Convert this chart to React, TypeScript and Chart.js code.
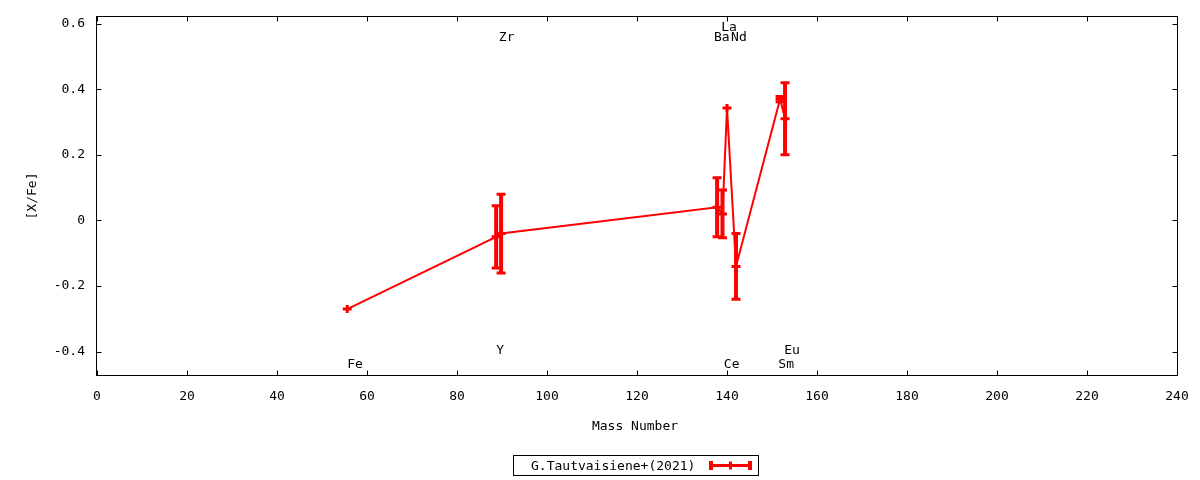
import React, { useEffect, useRef } from 'react';
import { Chart, registerables } from 'chart.js';

Chart.register(...registerables);

// ---- data ----
const seriesLabel = 'G.Tautvaisiene+(2021)';
const massNumbers = [55.6, 88.7, 89.8, 137.8, 139.0, 140.0, 142.0, 151.8, 152.9];
const xFeValues = [-0.27, -0.05, -0.04, 0.04, 0.02, 0.343, -0.14, 0.37, 0.31];
const xFeErrors = [0.0, 0.095, 0.12, 0.09, 0.073, 0.0, 0.1, 0.008, 0.11];

const elementNames = ['Fe', 'Y', 'Zr', 'Ba', 'La', 'Ce', 'Nd', 'Sm', 'Eu'];
const elementLabelX = [55.6, 88.7, 89.3, 137.1, 138.7, 139.3, 140.9, 151.4, 152.7];
const elementLabelY = [-0.44, -0.397, 0.557, 0.557, 0.589, -0.44, 0.557, -0.44, -0.397];

const xTicks = [0, 20, 40, 60, 80, 100, 120, 140, 160, 180, 200, 220, 240];
const yTicks = [-0.4, -0.2, 0, 0.2, 0.4, 0.6];
const yTickLabels = ['-0.4', '-0.2', '0', '0.2', '0.4', '0.6'];

const xTitle = 'Mass Number';
const yTitle = '[X/Fe]';

const FAMILY = "'DejaVu Sans Mono', monospace";
const RED = '#ff0000';

export default function App() {
  const ref = useRef<HTMLCanvasElement>(null);

  useEffect(() => {
    const canvas = ref.current;
    if (!canvas) return;

    const decor = {
      id: 'decor',
      afterDatasetsDraw(chart: any) {
        const ctx = chart.ctx;
        const xs = chart.scales.x;
        const ys = chart.scales.y;
        ctx.save();
        ctx.strokeStyle = RED;
        massNumbers.forEach((m, i) => {
          const px = xs.getPixelForValue(m);
          const py = ys.getPixelForValue(xFeValues[i]);
          const e = xFeErrors[i];
          if (e > 0) {
            const top = ys.getPixelForValue(xFeValues[i] + e);
            const bot = ys.getPixelForValue(xFeValues[i] - e);
            ctx.lineWidth = 4;
            ctx.beginPath();
            ctx.moveTo(px, top);
            ctx.lineTo(px, bot);
            ctx.stroke();
            ctx.lineWidth = 3;
            ctx.beginPath();
            ctx.moveTo(px - 4.5, top);
            ctx.lineTo(px + 4.5, top);
            ctx.moveTo(px - 4.5, bot);
            ctx.lineTo(px + 4.5, bot);
            ctx.stroke();
          }
          // plus marker
          ctx.lineWidth = 3;
          ctx.beginPath();
          ctx.moveTo(px - 4.5, py);
          ctx.lineTo(px + 4.5, py);
          ctx.moveTo(px, py - 4);
          ctx.lineTo(px, py + 4);
          ctx.stroke();
        });
        ctx.restore();
      },
      afterDraw(chart: any) {
        const ctx = chart.ctx;
        const xs = chart.scales.x;
        const ys = chart.scales.y;
        const a = chart.chartArea;
        ctx.save();
        ctx.strokeStyle = '#000';
        ctx.lineWidth = 1;
        const L = Math.round(a.left) - 0.5;
        const R = Math.round(a.right) + 0.5;
        const T = Math.round(a.top) - 0.5;
        const B = Math.round(a.bottom) + 0.5;
        ctx.strokeRect(L, T, R - L, B - T);
        const tl = 5;
        ctx.beginPath();
        xTicks.forEach((v) => {
          const p = Math.round(xs.getPixelForValue(v)) + 0.5;
          ctx.moveTo(p, B);
          ctx.lineTo(p, B - tl);
          ctx.moveTo(p, T);
          ctx.lineTo(p, T + tl);
        });
        yTicks.forEach((v) => {
          const p = Math.round(ys.getPixelForValue(v)) + 0.5;
          ctx.moveTo(L, p);
          ctx.lineTo(L + tl, p);
          ctx.moveTo(R, p);
          ctx.lineTo(R - tl, p);
        });
        ctx.stroke();

        // element labels
        ctx.fillStyle = '#000';
        ctx.font = `13px ${FAMILY}`;
        ctx.textAlign = 'left';
        ctx.textBaseline = 'middle';
        elementNames.forEach((n, i) => {
          ctx.fillText(n, xs.getPixelForValue(elementLabelX[i]), ys.getPixelForValue(elementLabelY[i]));
        });

        // axis titles
        ctx.textAlign = 'center';
        ctx.fillText(xTitle, (a.left + a.right) / 2 - 2, 427);
        ctx.save();
        ctx.translate(33, (a.top + a.bottom) / 2);
        ctx.rotate(-Math.PI / 2);
        ctx.fillText(yTitle, 0, 0);
        ctx.restore();

        // legend
        ctx.strokeStyle = '#000';
        ctx.lineWidth = 1;
        ctx.strokeRect(513.5, 455.5, 245, 20);
        ctx.textAlign = 'left';
        ctx.fillText(seriesLabel, 531, 467);
        ctx.strokeStyle = RED;
        ctx.lineWidth = 3;
        ctx.beginPath();
        ctx.moveTo(709, 465.5);
        ctx.lineTo(752, 465.5);
        ctx.stroke();
        ctx.lineWidth = 4;
        ctx.beginPath();
        ctx.moveTo(711, 461);
        ctx.lineTo(711, 470);
        ctx.moveTo(750, 461);
        ctx.lineTo(750, 470);
        ctx.stroke();
        ctx.lineWidth = 3;
        ctx.beginPath();
        ctx.moveTo(730.5, 461.5);
        ctx.lineTo(730.5, 469.5);
        ctx.stroke();
        ctx.restore();
      },
    };

    const chart = new Chart(canvas, {
      type: 'line',
      data: {
        datasets: [
          {
            label: seriesLabel,
            data: massNumbers.map((m, i) => ({ x: m, y: xFeValues[i] })),
            borderColor: RED,
            backgroundColor: RED,
            borderWidth: 2,
            pointRadius: 0,
            fill: false,
            tension: 0,
          },
        ],
      },
      options: {
        responsive: false,
        animation: false,
        devicePixelRatio: 1,
        layout: { padding: { top: 17, right: 23, left: 0, bottom: 0 } },
        plugins: { legend: { display: false }, tooltip: { enabled: false } },
        scales: {
          x: {
            type: 'linear',
            min: 0,
            max: 240,
            afterBuildTicks: (s: any) => {
              s.ticks = xTicks.map((v) => ({ value: v }));
            },
            afterFit: (s: any) => {
              s.height = 105;
            },
            grid: { display: false },
            border: { display: false },
            ticks: {
              color: '#000',
              font: { family: FAMILY, size: 13 },
              padding: 6,
              maxRotation: 0,
              autoSkip: false,
              callback: (v: any) => String(v),
            },
          },
          y: {
            type: 'linear',
            min: -0.471,
            max: 0.62,
            afterBuildTicks: (s: any) => {
              s.ticks = yTicks.map((v) => ({ value: v }));
            },
            afterFit: (s: any) => {
              s.width = 97;
            },
            grid: { display: false },
            border: { display: false },
            ticks: {
              color: '#000',
              font: { family: FAMILY, size: 13 },
              padding: 4,
              autoSkip: false,
              callback: (_v: any, i: number) => yTickLabels[i],
            },
          },
        },
      },
      plugins: [decor],
    });
    return () => chart.destroy();
  }, []);

  return (
    <div style={{ position: 'fixed', left: 0, top: 0, width: 1200, height: 480, background: '#fff' }}>
      <canvas ref={ref} width={1200} height={480} style={{ display: 'block' }} />
    </div>
  );
}
